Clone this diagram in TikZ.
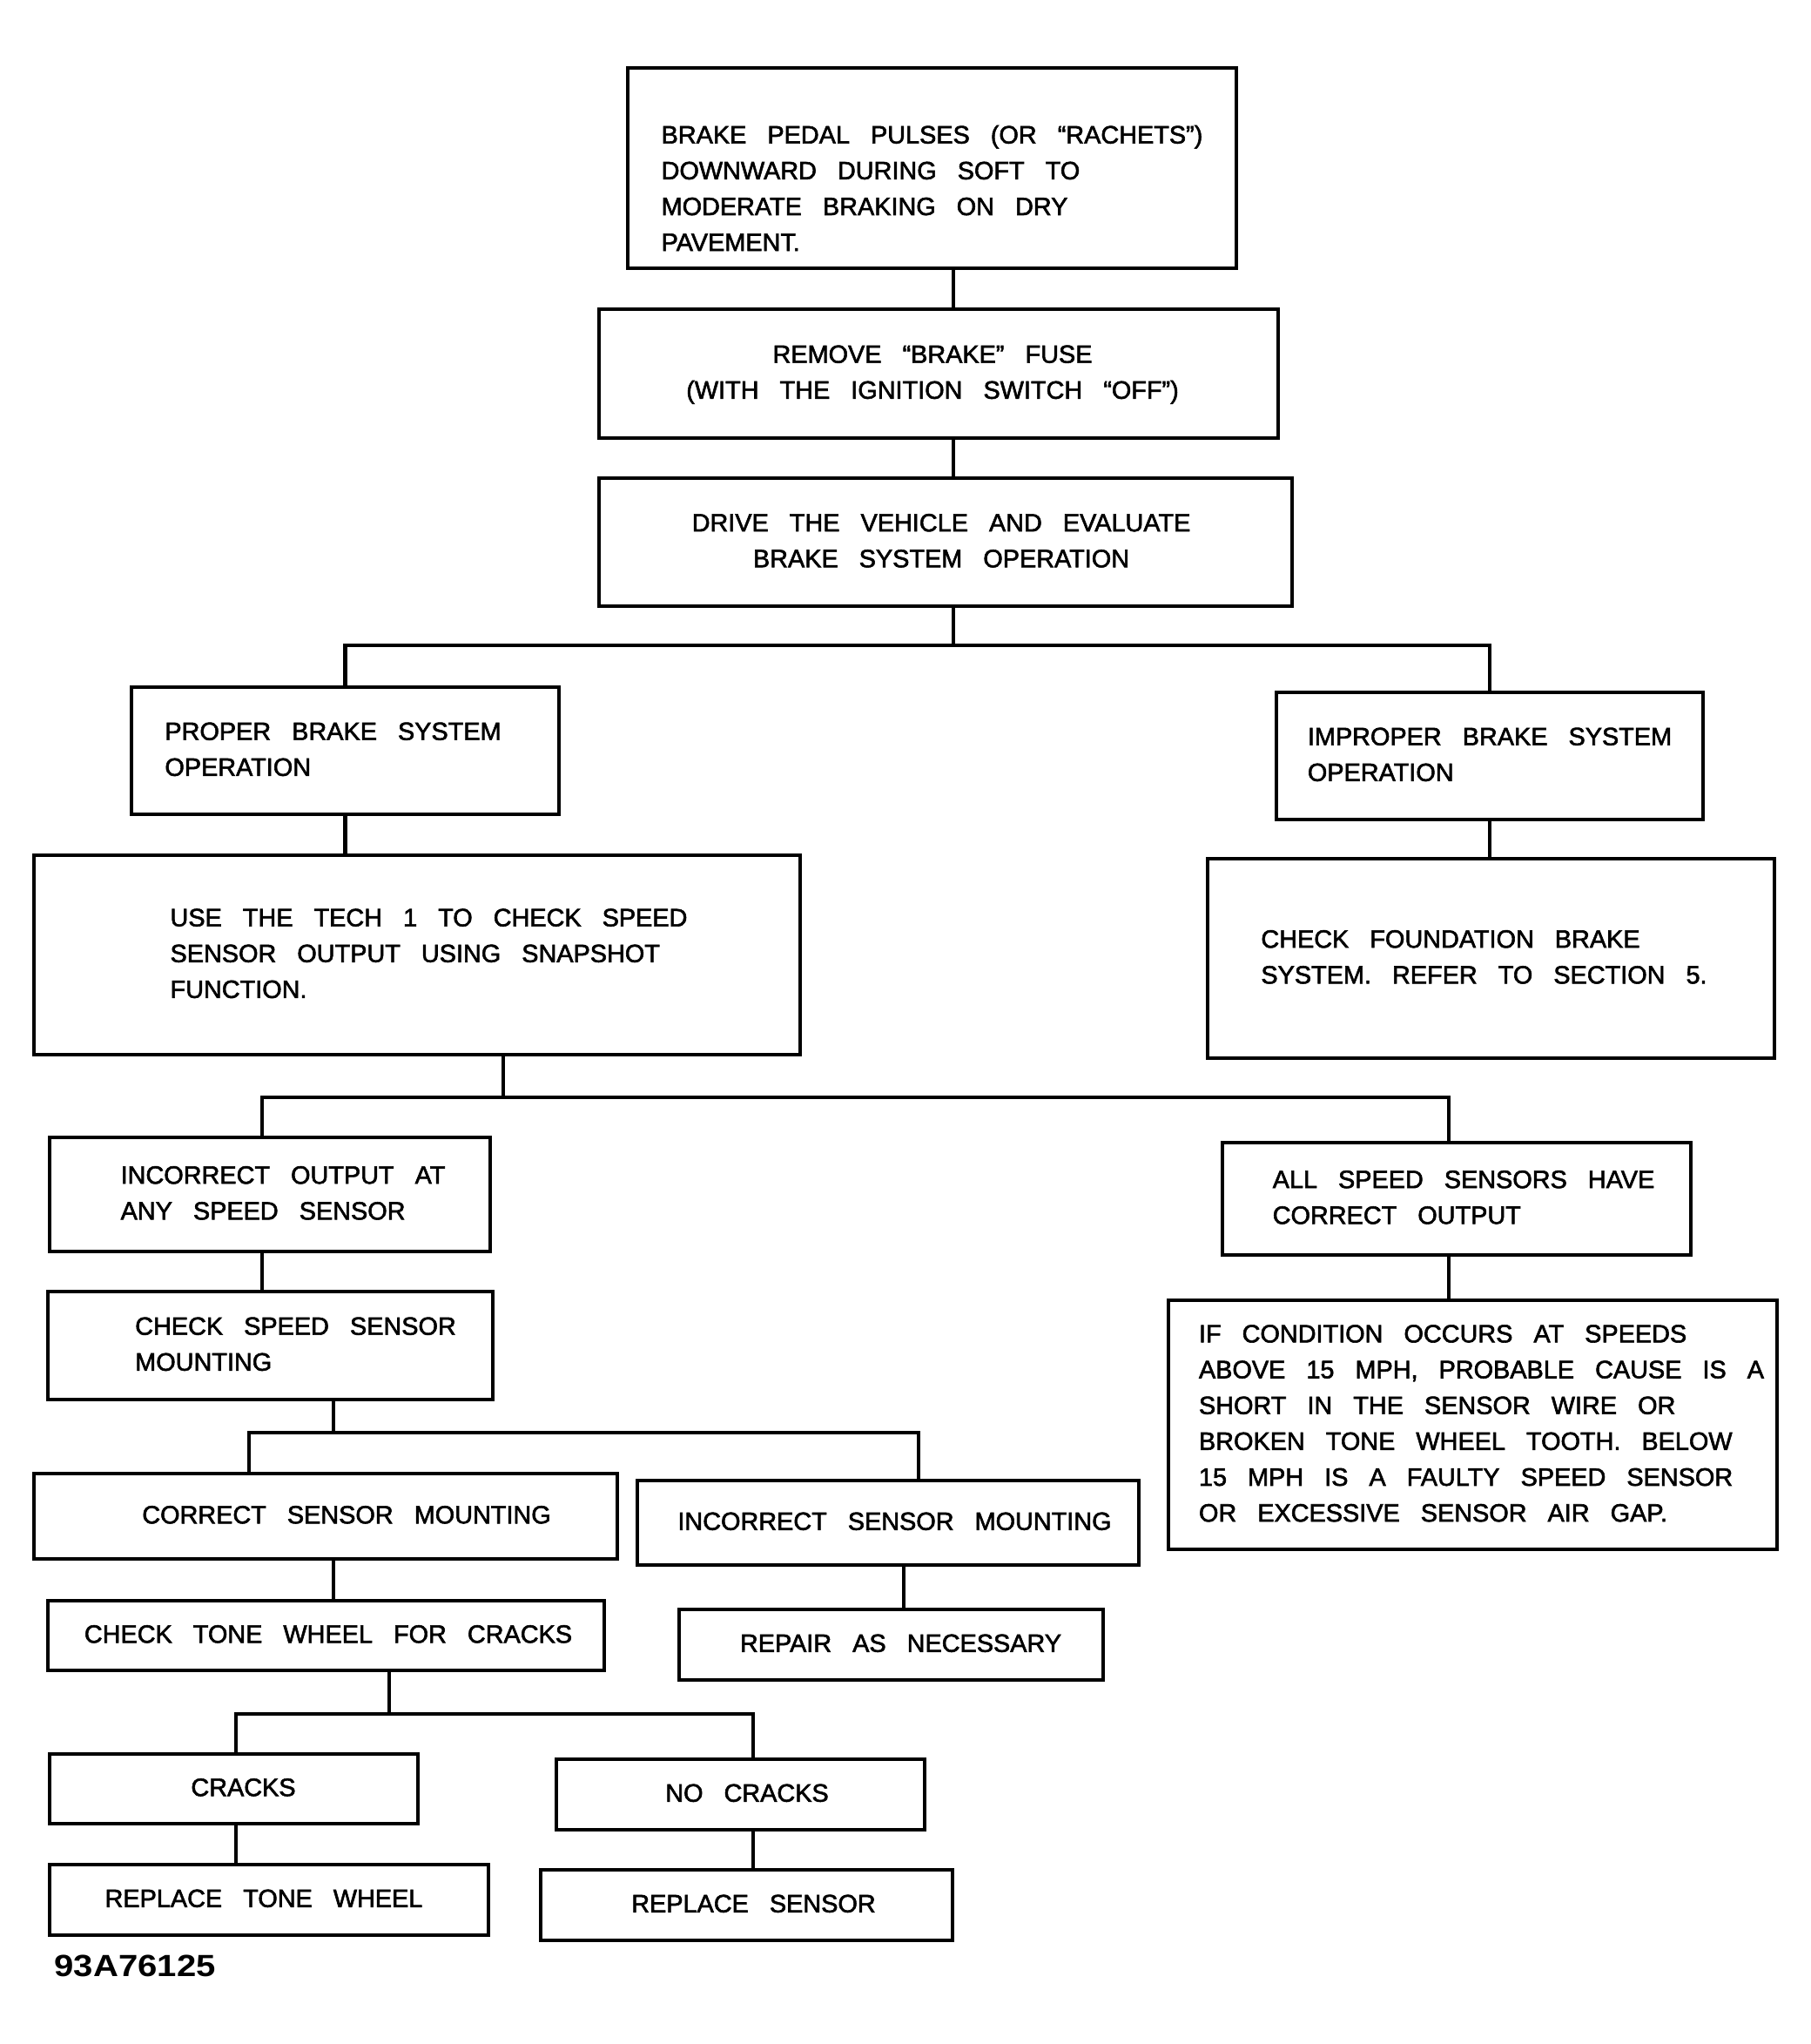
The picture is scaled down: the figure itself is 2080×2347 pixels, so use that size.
\documentclass[tikz,border=0pt]{standalone}
\usepackage{fontspec}
\setmainfont{Liberation Sans}[WordSpace=3, FakeBold=2]
\newfontfamily\codefont{Liberation Sans}[FakeStretch=1.14]

% text block inside a box, with extra room on the left / right
\newcommand{\boxtext}[4][l]{\begin{tabular}{@{\hspace*{#2}}#1@{\hspace*{#3}}}#4\end{tabular}}

\begin{document}
\begin{tikzpicture}[
    x=0.01cm, y=-0.01cm,
    % Box styles
    box/.style={rectangle, draw=black, line width=1.25pt, inner sep=0pt,
                font=\fontsize{8.2}{11.7}\selectfont},
    lbox/.style={box, align=left},
    % Connector style
    link/.style={draw=black, line width=1.25pt}
]
\useasboundingbox (0,0) rectangle (2080,2347);

% --- Top of the chart ---
\node[lbox, minimum width=6.99cm, minimum height=2.30cm] (pulse) at (1070.5,193)
    {\rule{0pt}{19pt}BRAKE PEDAL PULSES (OR “RACHETS”)\\DOWNWARD DURING SOFT TO\\MODERATE BRAKING ON DRY\\PAVEMENT.};
\node[box, minimum width=7.80cm, minimum height=1.48cm] (fuse) at (1078,429)
    {\boxtext[c]{0pt}{0.14cm}{REMOVE “BRAKE” FUSE\\(WITH THE IGNITION SWITCH “OFF”)}};
\node[box, minimum width=7.96cm, minimum height=1.47cm] (drive) at (1086,622.5)
    {\boxtext[c]{0pt}{0.1cm}{DRIVE THE VEHICLE AND EVALUATE\\BRAKE SYSTEM OPERATION}};

% --- First split ---
\node[box, minimum width=4.91cm, minimum height=1.46cm] (proper) at (396.5,862)
    {\boxtext{0pt}{0.28cm}{PROPER BRAKE SYSTEM\\OPERATION}};
\node[box, minimum width=4.90cm, minimum height=1.46cm] (improper) at (1711,868)
    {\boxtext{0pt}{0pt}{IMPROPER BRAKE SYSTEM\\OPERATION}};
\node[box, minimum width=8.80cm, minimum height=2.29cm] (tech) at (479,1096.5)
    {\boxtext{0.27cm}{0pt}{USE THE TECH 1 TO CHECK SPEED\\SENSOR OUTPUT USING SNAPSHOT\\FUNCTION.}};
\node[box, minimum width=6.51cm, minimum height=2.29cm] (found) at (1712.5,1100.5)
    {\boxtext{0pt}{0.16cm}{CHECK FOUNDATION BRAKE\\SYSTEM. REFER TO SECTION 5.}};

% --- Speed sensor output ---
\node[box, minimum width=5.06cm, minimum height=1.31cm] (badout) at (310,1371.5)
    {\boxtext{0.30cm}{0pt}{INCORRECT OUTPUT AT\\ANY SPEED SENSOR}};
\node[box, minimum width=5.38cm, minimum height=1.29cm] (goodout) at (1673,1376.5)
    {\boxtext{0.16cm}{0pt}{ALL SPEED SENSORS HAVE\\CORRECT OUTPUT}};
\node[box, minimum width=5.11cm, minimum height=1.24cm] (mount) at (310.5,1545)
    {\boxtext{0.58cm}{0pt}{CHECK SPEED SENSOR\\MOUNTING}};
\node[box, minimum width=6.99cm, minimum height=2.86cm] (cause) at (1691.5,1636)
    {\boxtext{0.2cm}{0pt}{IF CONDITION OCCURS AT SPEEDS\\ABOVE 15 MPH, PROBABLE CAUSE IS A\\SHORT IN THE SENSOR WIRE OR\\BROKEN TONE WHEEL TOOTH. BELOW\\15 MPH IS A FAULTY SPEED SENSOR\\OR EXCESSIVE SENSOR AIR GAP.}};

% --- Mounting ---
\node[box, minimum width=6.70cm, minimum height=0.98cm] (mount_ok) at (374,1741)
    {\boxtext{0.48cm}{0pt}{CORRECT SENSOR MOUNTING}};
\node[box, minimum width=5.76cm, minimum height=0.97cm] (mount_bad) at (1020,1748.5)
    {\boxtext{0.15cm}{0pt}{INCORRECT SENSOR MOUNTING}};
\node[box, minimum width=6.39cm, minimum height=0.80cm] (tone) at (374.5,1878)
    {\boxtext{0.05cm}{0pt}{CHECK TONE WHEEL FOR CRACKS}};
\node[box, minimum width=4.87cm, minimum height=0.81cm] (repair) at (1023.5,1888.5)
    {\boxtext{0.22cm}{0pt}{REPAIR AS NECESSARY}};

% --- Tone wheel ---
\node[box, minimum width=4.23cm, minimum height=0.80cm] (cracks) at (268.5,2054)
    {\boxtext{0.22cm}{0pt}{CRACKS}};
\node[box, minimum width=4.23cm, minimum height=0.81cm] (nocracks) at (850.5,2060.5)
    {\boxtext{0.15cm}{0pt}{NO CRACKS}};
\node[box, minimum width=5.04cm, minimum height=0.81cm] (rep_tone) at (309,2181.5)
    {\boxtext{0pt}{0.12cm}{REPLACE TONE WHEEL}};
\node[box, minimum width=4.73cm, minimum height=0.81cm] (rep_sensor) at (857.5,2187.5)
    {\boxtext{0.16cm}{0pt}{REPLACE SENSOR}};

\node[anchor=base west, inner sep=0pt, font=\codefont\fontsize{10}{12}\selectfont\bfseries] (fig_code) at (62,2269)
    {93A76125};

% --- Branch points ---
\coordinate (fork1) at (1095,741);
\coordinate (fork2) at (578,1260);
\coordinate (fork2_l) at (301,1260);
\coordinate (fork2_r) at (1664,1260);
\coordinate (fork3) at (383,1645);
\coordinate (fork3_l) at (286,1645);
\coordinate (fork3_r) at (1055,1645);
\coordinate (drop3_r) at (1038,1845);
\coordinate (fork4) at (447,1968);
\coordinate (fork4_l) at (271,1968);
\coordinate (fork4_r) at (865,1968);

% --- Connectors ---
\draw[link] (pulse.south -| fork1) -- (fuse.north -| fork1);
\draw[link] (fuse.south -| fork1) -- (drive.north -| fork1);
\draw[link] (drive.south -| fork1) -- (fork1);
\draw[link] (proper.north) |- (fork1) -| (improper.north);

\draw[link] (proper.south) -- (proper.south |- tech.north);
\draw[link] (improper.south) -- (improper.south |- found.north);

\draw[link] (tech.south -| fork2) -- (fork2);
\draw[link] (badout.north -| fork2_l) -- (fork2_l) -- (fork2_r) -- (goodout.north -| fork2_r);
\draw[link] (badout.south -| fork2_l) -- (mount.north -| fork2_l);
\draw[link] (goodout.south -| fork2_r) -- (cause.north -| fork2_r);

\draw[link] (mount.south -| fork3) -- (fork3);
\draw[link] (mount_ok.north -| fork3_l) -- (fork3_l) -- (fork3_r) -- (mount_bad.north -| fork3_r);
\draw[link] (mount_ok.south -| fork3) -- (tone.north -| fork3);
\draw[link] (mount_bad.south -| drop3_r) -- (repair.north -| drop3_r);

\draw[link] (tone.south -| fork4) -- (fork4);
\draw[link] (cracks.north -| fork4_l) -- (fork4_l) -- (fork4_r) -- (nocracks.north -| fork4_r);
\draw[link] (cracks.south -| fork4_l) -- (rep_tone.north -| fork4_l);
\draw[link] (nocracks.south -| fork4_r) -- (rep_sensor.north -| fork4_r);

\end{tikzpicture}
\end{document}
